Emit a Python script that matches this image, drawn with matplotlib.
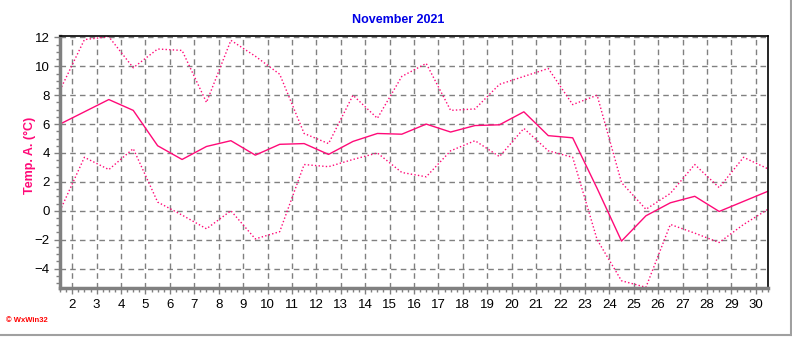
import numpy as np
import matplotlib
matplotlib.use("Agg")
import matplotlib.pyplot as plt
from matplotlib.ticker import MultipleLocator

plt.rcParams["font.family"] = ["Liberation Sans", "DejaVu Sans"]

# daily values, plotted at mid-day (x = day + 0.5)
days = np.arange(1, 31)
temp_max = [8.35, 11.85, 12.05, 9.9, 11.2, 11.1, 7.5, 11.8, 10.7, 9.45,
            5.35, 4.65, 8.0, 6.4, 9.3, 10.2, 6.95, 7.05, 8.75, 9.3,
            9.85, 7.35, 8.0, 1.95, 0.1, 1.2, 3.2, 1.6, 3.7, 2.9]
temp_mean = [6.0, 6.85, 7.7, 6.95, 4.5, 3.55, 4.45, 4.85, 3.85, 4.6,
             4.65, 3.9, 4.8, 5.35, 5.3, 6.0, 5.45, 5.9, 5.95, 6.85,
             5.2, 5.05, 1.55, -2.1, -0.35, 0.55, 1.0, -0.05, 0.65, 1.35]
temp_min = [0.0, 3.7, 2.85, 4.3, 0.6, -0.3, -1.25, 0.0, -1.95, -1.45,
            3.2, 3.05, 3.55, 4.0, 2.65, 2.35, 4.15, 4.85, 3.75, 5.7,
            4.15, 3.7, -2.0, -4.85, -5.3, -0.95, -1.55, -2.2, -0.95, 0.1]
x_ticks = list(range(2, 31))
y_ticks = [-4, -2, 0, 2, 4, 6, 8, 10, 12]

pink = "#ff0a78"
xs = days + 0.5

fig = plt.figure(figsize=(7.92, 3.37), dpi=100)
ax = fig.add_axes([60 / 792, 49 / 337, 708 / 792, 252 / 337])

ax.plot(xs, temp_max, color=pink, lw=1.0, ls=(0, (1, 1.6)))
ax.plot(xs, temp_min, color=pink, lw=1.0, ls=(0, (1, 1.6)))
ax.plot(xs, temp_mean, color=pink, lw=1.0, ls="-")

ax.set_xlim(1.5, 30.5)
ax.set_ylim(-5.35, 12.1)
ax.set_xticks(x_ticks)
ax.set_yticks(y_ticks)
ax.xaxis.set_minor_locator(MultipleLocator(0.25))
ax.yaxis.set_minor_locator(MultipleLocator(0.5))
ax.tick_params(which="both", direction="out", color="#808080", labelsize=9.5)
ax.tick_params(which="major", length=4, width=1)
ax.tick_params(which="minor", length=3, width=1)
ax.tick_params(axis="x", pad=4)

ax.grid(True, which="major", color="#808080", ls=(0, (4, 3)), lw=1)

for s in ["left", "bottom"]:
    ax.spines[s].set_color("#808080")
    ax.spines[s].set_linewidth(2.5)
for s in ["top", "right"]:
    ax.spines[s].set_color("black")
    ax.spines[s].set_linewidth(1.2)

fig.text(398 / 792, 1 - 20 / 337, "November 2021", color="#0000e6",
         fontsize=9, fontweight="bold", ha="center", va="center")
fig.text(30 / 792, 1 - 155 / 337, "Temp. A. (°C)", color=pink,
         fontsize=9, fontweight="bold", rotation=90, ha="center", va="center")
fig.text(6 / 792, 1 - 320 / 337, "© WxWin32", color="#ff0000",
         fontsize=5.5, fontweight="bold", ha="left", va="center")

# window frame lines at right and bottom
fig.add_artist(plt.Line2D([790.5 / 792, 790.5 / 792], [2 / 337, 1], color="#a0a0a0", lw=1.5,
                          transform=fig.transFigure))
fig.add_artist(plt.Line2D([0, 790.5 / 792], [2 / 337, 2 / 337], color="#a0a0a0", lw=1.5,
                          transform=fig.transFigure))

fig.savefig("out.png", dpi=100)
